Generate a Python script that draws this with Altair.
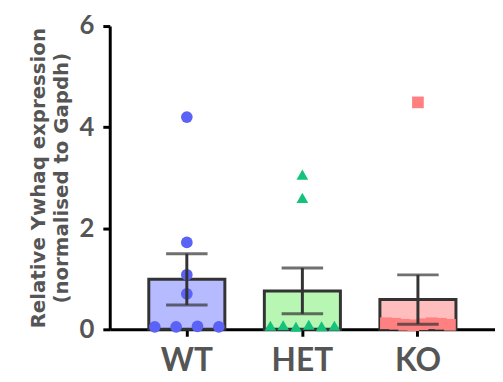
import altair as alt
import pandas as pd

groups = ["WT", "HET", "KO"]
wt_values = [4.2, 1.72, 1.08, 0.7, 0.05, 0.05, 0.06, 0.05]
het_values = [3.06, 2.6, 0.07, 0.08, 0.05, 0.09, 0.06, 0.07]
ko_values = [4.49, 0.12, 0.11, 0.09, 0.08, 0.1, 0.12, 0.11, 0.09]
point_colors = ["#5b62f6", "#14c27b", "#ff8080"]
bar_fills = ["#b6baff", "#b7f6b3", "#ffbdbd"]
shapes = ["circle", "triangle-up", "square"]
y_ticks = [0, 2, 4, 6]

rows = []
for g, vals in zip(groups, [wt_values, het_values, ko_values]):
    low = [v for v in vals if v < 0.3]
    n_low = len(low)
    k = 0
    for v in vals:
        if v < 0.3:
            j = -0.42 + (0.84 * k / (n_low - 1) if n_low > 1 else 0.42)
            k += 1
        else:
            j = 0.0
        rows.append({"group": g, "value": v, "jitter": j})
df = pd.DataFrame(rows)

LABEL_FONT = "Lato"
TICK_FONT = "Lato"
TITLE_FONT = "DejaVu Sans"
GREY = "#555555"

x_enc = alt.X(
    "group:N",
    sort=groups,
    scale=alt.Scale(paddingInner=0.34, paddingOuter=0.337),
    axis=alt.Axis(
        title=None, labelAngle=0, labelFontSize=32, labelFont=LABEL_FONT,
        labelFontWeight="bold", labelColor=GREY, labelPadding=10,
        domainColor="black", domainWidth=3, tickColor="black",
        tickWidth=3, tickSize=7,
    ),
)
y_scale = alt.Scale(domain=[0, 6])
y_axis = alt.Axis(
    values=y_ticks, grid=False, labelFontSize=26, labelFont=TICK_FONT,
    labelFontWeight="bold", labelColor=GREY, labelPadding=9,
    domainColor="black", domainWidth=3, tickColor="black", tickWidth=3,
    tickSize=7,
    title=["Relative Ywhaq expression", "(normalised to Gapdh)"],
    titleFontSize=20, titleFont=TITLE_FONT, titleFontWeight="bold",
    titleColor=GREY, titlePadding=8, titleLineHeight=23,
)

base = alt.Chart(df)

bars = base.mark_bar(stroke="#333333", strokeWidth=3, width=77).encode(
    x=x_enc,
    y=alt.Y("mean(value):Q", scale=y_scale, axis=y_axis),
    fill=alt.Fill("group:N", scale=alt.Scale(domain=groups, range=bar_fills), legend=None),
)

points = base.mark_point(filled=True, opacity=1, size=140).encode(
    x=x_enc,
    xOffset=alt.XOffset("jitter:Q", scale=alt.Scale(domain=[-0.5, 0.5])),
    y=alt.Y("value:Q", scale=y_scale, axis=y_axis),
    color=alt.Color("group:N", scale=alt.Scale(domain=groups, range=point_colors), legend=None),
    shape=alt.Shape("group:N", scale=alt.Scale(domain=groups, range=shapes), legend=None),
)

errs = base.mark_errorbar(
    extent="stderr", color="#333333", thickness=3,
    ticks={"size": 42, "thickness": 3, "color": "#333333"},
).encode(
    x=x_enc,
    y=alt.Y("value:Q", scale=y_scale, axis=y_axis),
)

chart = alt.layer(bars, points, errs).properties(
    width=390, height=307,
    padding={"left": 20, "top": 3, "right": 0, "bottom": 0},
).configure_view(stroke=None)

chart.save("out.html", embed_options={"renderer": "svg", "actions": False})
